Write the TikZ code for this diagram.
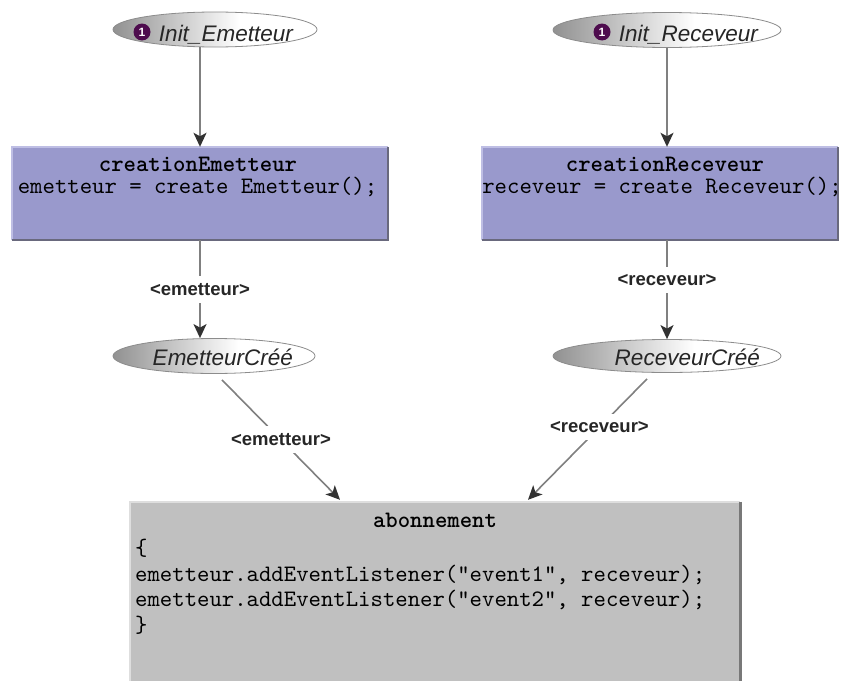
\documentclass[tikz,border=0pt]{standalone}
\usepackage{fontspec}
\usetikzlibrary{arrows.meta,shapes.geometric,calc}

\newfontfamily\labfont{Liberation Sans}
\newfontfamily\codefont[BoldFont=lmmonolt10-bold.otf]{lmmono10-regular.otf}

\definecolor{placegray}{RGB}{145,145,145}
\definecolor{lavender}{RGB}{153,153,204}
\definecolor{lavlight}{RGB}{190,190,228}
\definecolor{lavdark}{RGB}{105,105,125}
\definecolor{boxgray}{RGB}{192,192,192}
\definecolor{boxlight}{RGB}{222,222,222}
\definecolor{boxdark}{RGB}{120,120,120}
\definecolor{linegray}{RGB}{128,128,128}
\definecolor{tipgray}{RGB}{50,50,50}
\definecolor{badgepurple}{RGB}{78,12,78}

% grey on the left fading to white towards the right
\pgfdeclarehorizontalshading{placeshade}{100bp}{%
  color(0bp)=(placegray); color(25bp)=(placegray);
  color(56bp)=(white); color(100bp)=(white)}

\tikzset{
  place/.style={ellipse, shading=placeshade, shading angle=0,
    draw=black!45, line width=0.8pt, inner sep=0pt},
  ptext/.style={inner sep=0pt, font=\labfont\itshape\fontsize{22.5}{24}\selectfont,
    text=black!85},
  badge/.style={circle, fill=badgepurple, text=white, inner sep=0pt,
    minimum size=17pt, font=\labfont\bfseries\fontsize{12}{13}\selectfont},
  trans/.style={rectangle, fill=lavender, inner sep=0pt},
  subbox/.style={rectangle, fill=boxgray, inner sep=0pt},
  code/.style={inner sep=0pt, font=\codefont\fontsize{23.6}{25}\selectfont},
  codebold/.style={code, font=\codefont\bfseries\fontsize{23.6}{25}\selectfont},
  lbl/.style={fill=white, inner xsep=1pt, inner ysep=7.5pt,
    font=\labfont\bfseries\fontsize{18.5}{20}\selectfont, text=black!85},
  arr/.style={draw=linegray, line width=1.6pt,
    -{Stealth[length=14pt, width=13pt, inset=3.5pt, color=tipgray]}},
  lavlightedge/.style={draw=lavlight, line width=1.5pt},
  lavdarkedge/.style={draw=lavdark, line width=2pt},
  graylightedge/.style={draw=boxlight, line width=1.5pt},
  graydarkedge/.style={draw=boxdark, line width=3pt},
}

\begin{document}
\begin{tikzpicture}[x=1pt, y=-1pt]
\clip (0,0) rectangle (843,680);
\fill[white] (0,0) rectangle (843,680);

% initial places
\node[place, minimum width=204pt, minimum height=35pt] (initE) at (215,29.5) {};
\node[place, minimum width=228pt, minimum height=35pt] (initR) at (667,30) {};
\node[badge] (badgeE) at (142,32) {1};
\node[badge] (badgeR) at (602,32) {1};
\node[ptext, anchor=base east] (initEtext) at (293,41) {Init\_Emetteur};
\node[ptext, anchor=base east] (initRtext) at (758,41) {Init\_Receveur};

% creation transitions
\node[trans, minimum width=376pt, minimum height=93pt] (creaE) at (200,193.5) {};
\node[trans, minimum width=356pt, minimum height=93pt] (creaR) at (660,193.5) {};
\draw[lavlightedge] (creaE.south west) -- (creaE.north west) -- (creaE.north east);
\draw[lavdarkedge] (creaE.north east) -- (creaE.south east) -- (creaE.south west);
\draw[lavlightedge] (creaR.south west) -- (creaR.north west) -- (creaR.north east);
\draw[lavdarkedge] (creaR.north east) -- (creaR.south east) -- (creaR.south west);
\node[codebold, anchor=base] (creaEtitle) at (198,171) {creationEmetteur};
\node[code, anchor=base] (creaEcode) at (197.5,193) {emetteur = create Emetteur();};
\node[codebold, anchor=base] (creaRtitle) at (665,171) {creationReceveur};
\node[code, anchor=base] (creaRcode) at (662,193) {receveur = create Receveur();};

% created places
\node[place, minimum width=202pt, minimum height=35pt] (doneE) at (214,356) {};
\node[place, minimum width=228pt, minimum height=33pt] (doneR) at (667,356) {};
\node[ptext, anchor=base east] (doneEtext) at (293,365) {EmetteurCréé};
\node[ptext, anchor=base east] (doneRtext) at (760,365) {ReceveurCréé};

% subscription transition
\node[subbox, minimum width=610pt, minimum height=200pt] (abo) at (435,602) {};
\draw[graylightedge] (abo.south west) -- (abo.north west) -- (abo.north east);
\draw[graydarkedge] (abo.north east) -- (abo.south east);
\node[codebold, anchor=base] (abotitle) at (435,527) {abonnement};
\node[code, anchor=base west] (abo1) at (135,555) {\{};
\node[code, anchor=base west] (abo2) at (135,581) {emetteur.addEventListener("event1", receveur);};
\node[code, anchor=base west] (abo3) at (135,606) {emetteur.addEventListener("event2", receveur);};
\node[code, anchor=base west] (abo4) at (135,632) {\}};

% arcs
\draw[arr] (creaE.north |- initE.south) -- (creaE.north);
\draw[arr] (initR.south) -- (initR.south |- creaR.north);
\draw[arr] (creaE.south) -- node[lbl] (lblE1) {<emetteur>} (creaE.south |- doneE.north);
\draw[arr] (doneR.north |- creaR.south) -- node[lbl, pos=0.4] (lblR1) {<receveur>} (doneR.north);
\draw[arr] ([shift={(8,6)}]doneE.south) -- node[lbl] (lblE2) {<emetteur>}
  ([xshift=-95pt, yshift=2pt]abo.north);
\draw[arr] ([shift={(-20,6)}]doneR.south) -- node[lbl, pos=0.4] (lblR2) {<receveur>}
  ([xshift=93pt, yshift=2pt]abo.north);
\end{tikzpicture}
\end{document}
